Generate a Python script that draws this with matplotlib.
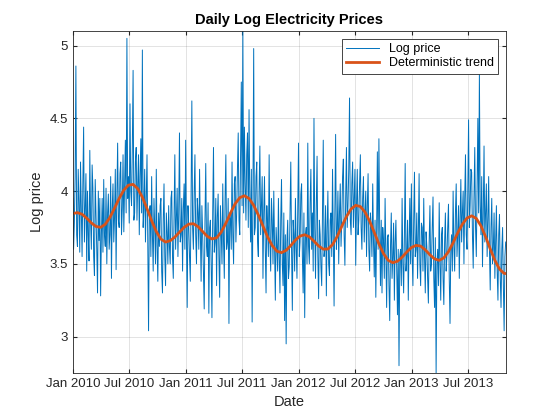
import pandas as pd
import matplotlib
matplotlib.use("Agg")
import matplotlib.pyplot as plt
import matplotlib.dates as mdates
from matplotlib.ticker import FormatStrFormatter

# Log price, read every 2.5 days from 1 Jan 2010
log_price = [
    3.95, 3.60, 3.78, 4.10, 4.86, 3.70, 3.62, 4.15, 3.92, 3.58, 4.20, 3.85, 3.55, 4.05, 4.44, 3.65, 3.88, 4.12, 3.45, 4.00,
    3.70, 3.52, 4.28, 3.80, 3.60, 4.18, 4.02, 3.55, 3.42, 4.08, 3.85, 3.60, 3.30, 4.00, 3.66, 3.95, 3.28, 3.70, 3.95, 3.58,
    4.08, 3.70, 3.62, 4.02, 3.50, 3.85, 3.98, 3.60, 3.70, 4.10, 3.40, 3.88, 4.05, 3.65, 3.82, 4.15, 3.46, 3.95, 4.33, 3.80,
    3.75, 4.12, 4.20, 3.70, 3.88, 4.25, 3.72, 4.05, 4.35, 3.85, 5.05, 3.95, 4.10, 3.78, 4.60, 4.00, 3.90, 4.30, 4.83, 3.80,
    3.85, 4.20, 4.30, 3.80, 4.05, 4.25, 3.70, 4.10, 4.36, 3.85, 4.97, 3.75, 3.88, 4.15, 3.65, 3.95, 4.25, 3.60, 3.04, 3.85,
    3.90, 3.55, 4.10, 3.70, 3.45, 3.95, 3.75, 3.50, 4.15, 3.62, 3.38, 3.85, 3.62, 3.90, 3.95, 3.45, 3.30, 3.80, 4.05, 3.55,
    3.35, 3.85, 3.72, 3.50, 3.90, 3.62, 3.50, 3.95, 4.00, 3.55, 3.40, 3.80, 4.25, 3.60, 3.80, 4.02, 3.55, 3.85, 4.40, 3.65,
    3.70, 3.95, 3.45, 3.88, 4.05, 3.60, 4.35, 3.70, 3.20, 3.90, 3.75, 3.55, 3.38, 3.95, 4.62, 3.75, 3.60, 3.98, 4.25, 3.70,
    3.50, 3.95, 3.85, 3.60, 4.15, 3.72, 3.38, 3.90, 3.70, 3.45, 3.19, 3.80, 4.19, 3.62, 3.55, 3.92, 3.16, 3.75, 3.80, 3.50,
    3.13, 3.85, 4.30, 3.58, 3.65, 3.95, 3.35, 3.82, 3.98, 3.55, 3.27, 3.90, 3.72, 3.50, 4.05, 3.65, 3.40, 3.95, 4.25, 3.60,
    3.65, 3.95, 3.09, 3.85, 3.80, 3.60, 4.20, 3.70, 3.50, 4.05, 4.10, 3.65, 3.85, 4.15, 4.40, 3.80, 3.70, 4.20, 4.75, 3.90,
    5.10, 3.85, 4.44, 4.05, 3.80, 4.25, 4.40, 3.75, 4.56, 3.95, 3.65, 4.15, 3.10, 3.90, 4.98, 3.70, 3.75, 4.10, 4.20, 3.65,
    3.55, 4.00, 4.31, 3.70, 3.90, 4.10, 3.40, 3.85, 4.10, 3.60, 3.30, 3.90, 3.75, 3.55, 4.25, 3.65, 3.45, 3.95, 3.80, 3.50,
    4.00, 3.60, 3.25, 3.75, 3.62, 3.45, 3.95, 3.55, 3.30, 3.80, 4.08, 3.50, 3.35, 3.85, 3.11, 3.70, 2.95, 3.65, 3.80, 3.40,
    3.48, 3.85, 4.20, 3.60, 3.18, 3.80, 3.70, 3.45, 3.95, 3.62, 3.40, 3.88, 4.33, 3.55, 3.65, 3.98, 4.05, 3.55, 3.30, 3.85,
    3.13, 3.70, 3.75, 3.50, 4.33, 3.62, 3.50, 3.92, 4.15, 3.60, 3.85, 3.45, 4.50, 3.75, 3.40, 3.90, 4.24, 3.55, 3.26, 3.80,
    3.70, 3.48, 3.35, 3.85, 4.35, 3.55, 3.60, 3.90, 3.28, 3.75, 4.00, 3.50, 3.42, 3.80, 3.85, 3.55, 4.15, 3.65, 3.21, 3.85,
    4.39, 3.60, 3.72, 4.00, 3.50, 3.85, 4.05, 3.62, 3.80, 4.10, 4.22, 3.70, 3.49, 3.95, 4.30, 3.75, 3.90, 4.15, 4.64, 3.80,
    3.70, 4.05, 4.20, 3.75, 3.95, 4.15, 3.49, 3.90, 4.15, 3.70, 3.80, 4.05, 4.25, 3.75, 3.60, 3.95, 4.10, 3.65, 3.85, 4.00,
    3.55, 3.90, 4.12, 3.60, 3.45, 3.85, 3.75, 3.55, 4.05, 3.65, 3.41, 3.80, 3.27, 3.70, 4.27, 3.60, 4.36, 3.75, 3.35, 3.80,
    3.30, 3.75, 3.65, 3.40, 3.95, 3.55, 3.20, 3.68, 3.70, 3.35, 3.11, 3.62, 3.85, 3.40, 3.55, 3.78, 3.25, 3.65, 3.80, 3.45,
    3.15, 3.60, 2.80, 3.55, 3.60, 3.35, 3.95, 3.50, 3.30, 3.70, 4.19, 3.45, 3.55, 3.80, 3.25, 3.65, 3.95, 3.50, 4.05, 3.55,
    3.35, 3.80, 4.13, 3.55, 3.60, 3.85, 3.40, 3.70, 4.12, 3.50, 3.35, 3.78, 3.75, 3.45, 3.95, 3.55, 3.30, 3.72, 3.62, 3.40,
    3.23, 3.65, 3.90, 3.45, 3.50, 3.75, 3.96, 3.40, 3.20, 3.68, 2.75, 3.50, 3.60, 3.35, 3.92, 3.50, 3.25, 3.70, 3.75, 3.40,
    3.22, 3.65, 3.85, 3.45, 3.55, 3.75, 3.91, 3.40, 3.09, 3.60, 3.70, 3.45, 4.00, 3.62, 3.45, 3.85, 4.05, 3.55, 3.70, 3.90,
    3.40, 3.80, 4.08, 3.65, 3.85, 4.00, 3.50, 3.95, 4.25, 3.70, 3.60, 4.00, 4.49, 3.75, 3.90, 4.15, 4.13, 3.70, 3.47, 3.95,
    4.30, 3.75, 3.55, 4.05, 4.50, 3.85, 4.81, 3.90, 3.70, 4.10, 3.48, 3.85, 4.31, 3.65, 3.85, 4.05, 3.55, 3.80, 4.10, 3.60,
    3.32, 3.75, 3.95, 3.50, 3.60, 3.85, 3.40, 3.65, 3.90, 3.45, 3.25, 3.70, 3.84, 3.40, 3.20, 3.60, 3.75, 3.35, 3.04, 3.55,
    3.65,
]

# Deterministic trend, read every 15 days from 1 Jan 2010
trend = [
    3.846, 3.852, 3.841, 3.814, 3.781, 3.757, 3.751, 3.772, 3.819, 3.883,
    3.950, 4.007, 4.041, 4.046, 4.017, 3.958, 3.880, 3.796, 3.722, 3.670,
    3.650, 3.659, 3.684, 3.718, 3.751, 3.773, 3.776, 3.756, 3.722, 3.689,
    3.671, 3.679, 3.718, 3.779, 3.849, 3.913, 3.955, 3.968, 3.949, 3.902,
    3.836, 3.760, 3.685, 3.625, 3.587, 3.577, 3.593, 3.626, 3.663, 3.691,
    3.700, 3.686, 3.656, 3.623, 3.601, 3.602, 3.632, 3.688, 3.758, 3.825,
    3.877, 3.902, 3.894, 3.856, 3.793, 3.716, 3.637, 3.570, 3.524, 3.508,
    3.518, 3.546, 3.581, 3.612, 3.627, 3.622, 3.596, 3.562, 3.534, 3.524,
    3.541, 3.584, 3.645, 3.713, 3.773, 3.815, 3.830, 3.812, 3.761, 3.687,
    3.603, 3.524, 3.464, 3.434, 3.433,
]

price_dates = pd.date_range("2010-01-01", periods=len(log_price), freq="60h")
trend_dates = pd.date_range("2010-01-01", periods=len(trend), freq="15D")

plt.rcParams["font.family"] = ["Liberation Sans", "DejaVu Sans"]

fig = plt.figure(figsize=(5.6, 4.2), dpi=100)
ax = fig.add_axes([0.13, 0.112, 0.773, 0.814])

ax.plot(price_dates, log_price, color="#0072BD", lw=0.7, label="Log price")
ax.plot(trend_dates, trend, color="#D95319", lw=2.0, label="Deterministic trend")

ax.set_xlim(price_dates[0], price_dates[-1])
ax.set_ylim(min(log_price), max(log_price))
ax.xaxis.set_major_locator(mdates.MonthLocator(bymonth=[1, 7]))
ax.xaxis.set_major_formatter(mdates.DateFormatter("%b %Y"))
ax.set_yticks([3, 3.5, 4, 4.5, 5])
ax.yaxis.set_major_formatter(FormatStrFormatter("%g"))

ax.grid(True, color="#262626", alpha=0.15, lw=0.6)
ax.tick_params(direction="in", length=3, labelsize=9.5, colors="#262626",
               top=True, right=True)
for s in ax.spines.values():
    s.set_color("#262626")
    s.set_linewidth(0.6)

ax.set_title("Daily Log Electricity Prices", fontsize=10.5, fontweight="bold", pad=5)
ax.set_xlabel("Date", fontsize=10.5, color="#262626")
ax.set_ylabel("Log price", fontsize=10.5, color="#262626")

leg = ax.legend(loc="upper right", fontsize=9, fancybox=False, framealpha=1,
                edgecolor="#262626", borderpad=0.35, handlelength=2.6,
                labelspacing=0.2, borderaxespad=0.6)
leg.get_frame().set_linewidth(0.6)

fig.savefig("out.png", dpi=100)
